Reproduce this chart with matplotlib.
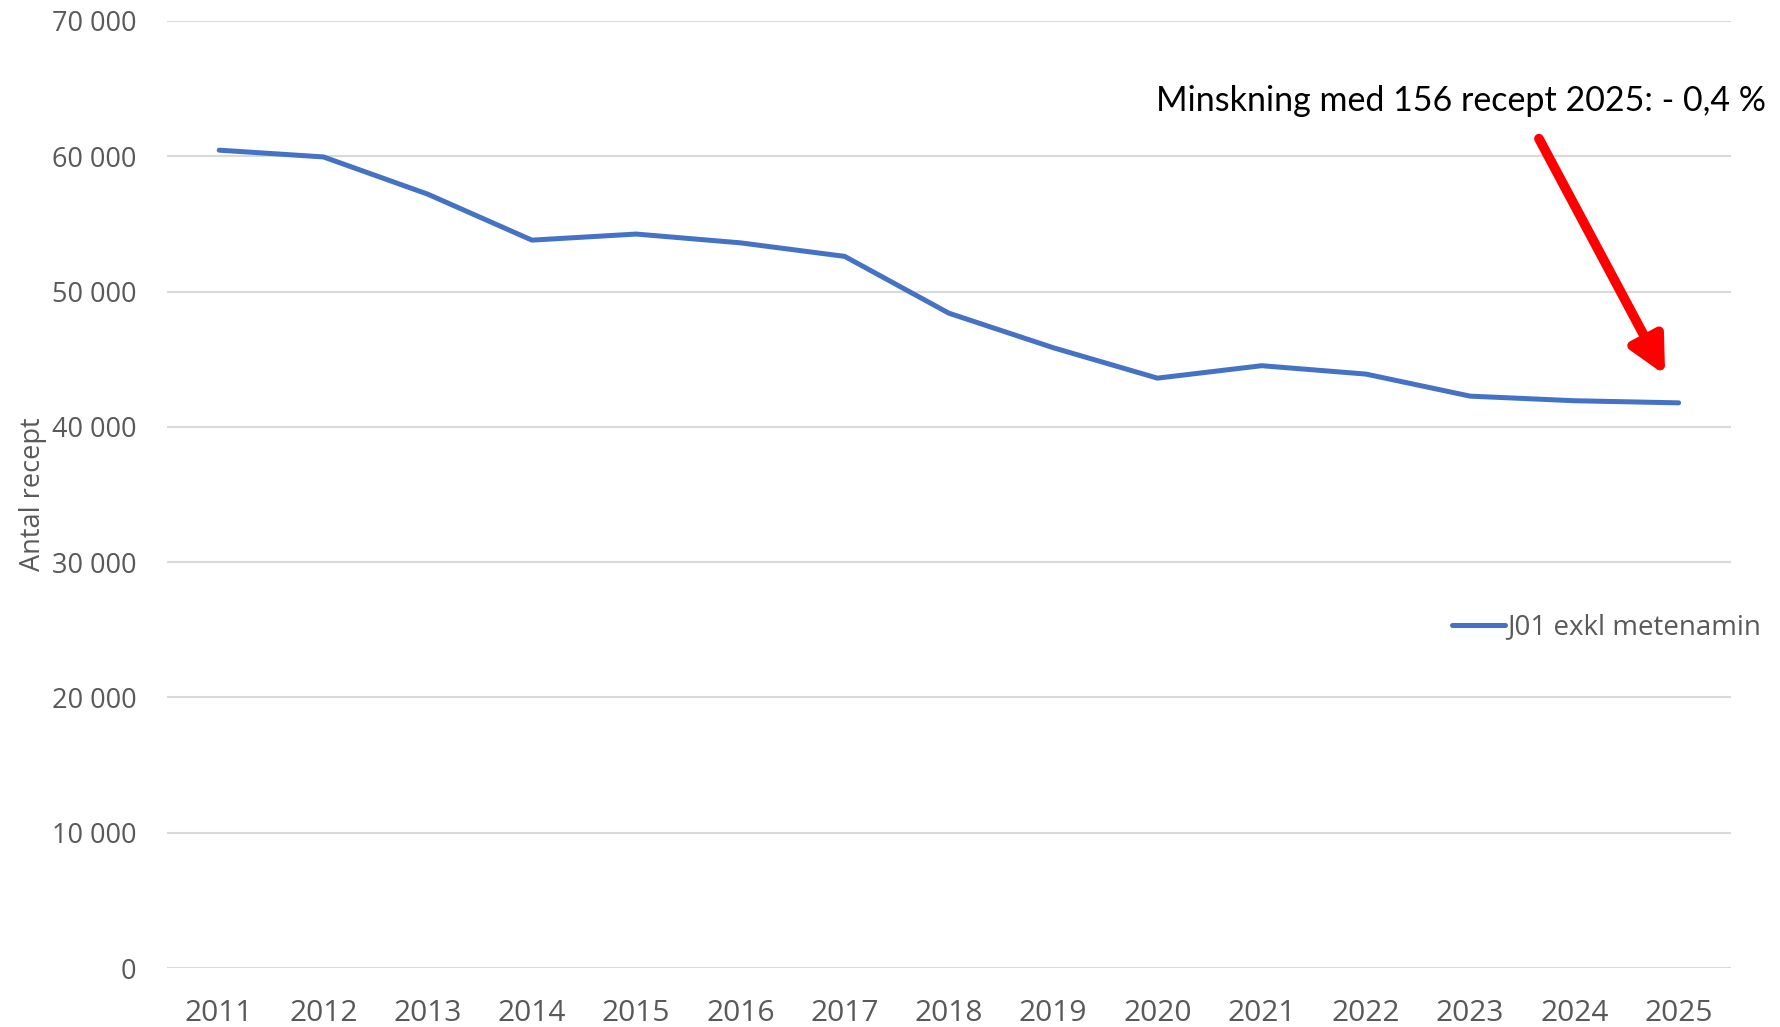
import matplotlib.pyplot as plt
from matplotlib.ticker import FuncFormatter

years = ["2011", "2012", "2013", "2014", "2015", "2016", "2017", "2018",
         "2019", "2020", "2021", "2022", "2023", "2024", "2025"]
recept = [60450, 59950, 57200, 53800, 54250, 53600, 52600, 48400,
          45850, 43600, 44520, 43900, 42270, 41930, 41774]
serie_namn = "J01 exkl metenamin"
anteckning = "Minskning med 156 recept 2025: - 0,4 %"

plt.rcParams['font.family'] = ['Open Sans', 'DejaVu Sans']
gray = "#595959"

fig = plt.figure(figsize=(17.81, 10.27), dpi=100)
ax = fig.add_axes([0.0938, 0.0574, 0.878, 0.9222])

x = list(range(len(years)))
ax.plot(x, recept, color="#4472C4", lw=3.6, solid_capstyle="round",
        solid_joinstyle="round", label=serie_namn, zorder=3)

ax.set_xlim(-0.5, len(years) - 0.5)
ax.set_ylim(0, 70000)
ax.set_yticks(range(0, 70001, 10000))
ax.yaxis.set_major_formatter(FuncFormatter(lambda v, p: f"{int(v):,}".replace(",", " ")))
ax.set_xticks(x)
ax.set_xticklabels(years)

ax.grid(axis="y", color="#d9d9d9", lw=1.5)
ax.set_axisbelow(True)
for s in ax.spines.values():
    s.set_visible(False)
ax.tick_params(axis="both", length=0, labelcolor=gray)
ax.tick_params(axis="y", pad=22, labelsize=19.5)
ax.tick_params(axis="x", pad=22, labelsize=21.5)

ax.set_ylabel("Antal recept", fontsize=19.5, color=gray)
ax.yaxis.set_label_coords(-0.077, 0.5)

# pil mot sista punkten
ax.annotate("", xy=(13.87, 43830), xytext=(12.66, 61300),
            arrowprops=dict(arrowstyle="-|>", color="red", lw=7,
                            mutation_scale=55, shrinkA=0, shrinkB=0))
fig.text(0.649, 0.9017, anteckning, fontsize=24.5, color="black",
         family=['Lato', 'DejaVu Sans'], ha="left", va="center")

ax.legend(loc="center right", bbox_to_anchor=(1.003, 0.389),
          bbox_transform=fig.transFigure, frameon=False, fontsize=20,
          handlelength=1.9, handletextpad=0.1, labelcolor=gray)

fig.savefig("out.png", dpi=100)
